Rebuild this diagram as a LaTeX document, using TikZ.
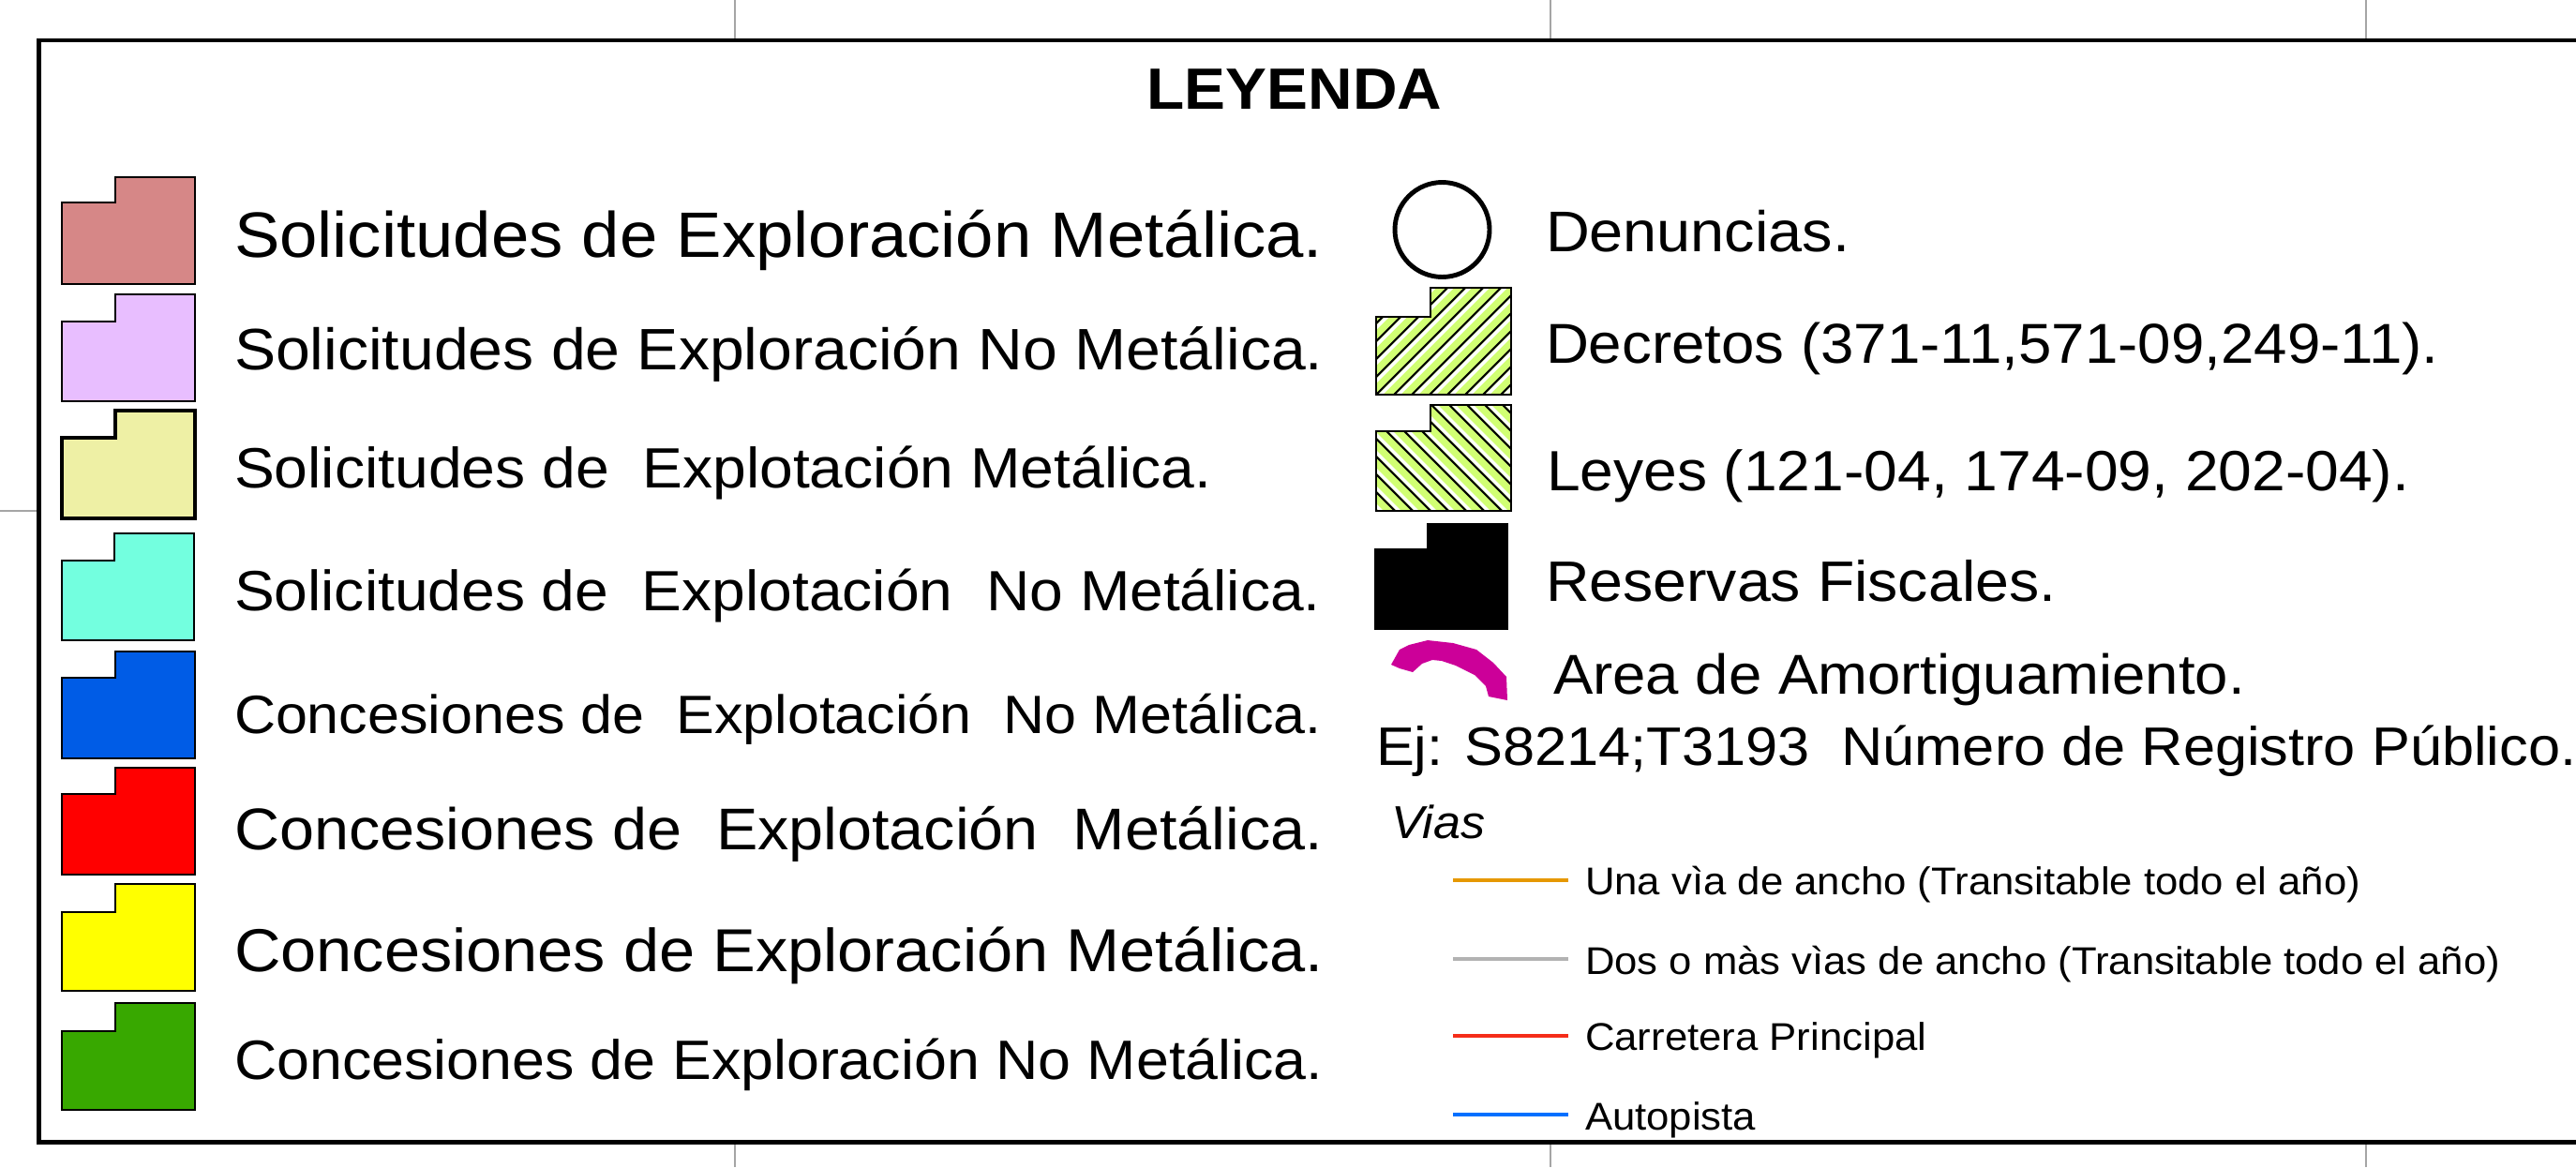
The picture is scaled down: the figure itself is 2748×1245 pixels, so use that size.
\documentclass[tikz,border=0pt]{standalone}
\usepackage{fontspec}
\setmainfont{Liberation Sans}
\definecolor{cA}{RGB}{214,135,135}
\definecolor{cB}{RGB}{232,190,255}
\definecolor{cC}{RGB}{238,240,165}
\definecolor{cD}{RGB}{115,255,223}
\definecolor{cE}{RGB}{0,92,230}
\definecolor{cF}{RGB}{255,0,0}
\definecolor{cG}{RGB}{255,255,0}
\definecolor{cH}{RGB}{56,168,0}
\definecolor{hatchgreen}{RGB}{209,255,115}
\definecolor{magent}{RGB}{204,0,153}
\definecolor{gridgray}{RGB}{165,165,165}
\definecolor{roadorange}{RGB}{230,152,0}
\definecolor{roadgray}{RGB}{178,178,178}
\definecolor{roadred}{RGB}{245,45,25}
\definecolor{roadblue}{RGB}{0,112,255}
\newcommand\fsz[1]{\fontsize{#1}{#1}\selectfont}
% style, x0, xnotch, x1, top, step, bottom
\newcommand\swatch[7]{\path[#1] (#2,#6) -- (#3,#6) -- (#3,#5) -- (#4,#5) -- (#4,#7) -- (#2,#7) -- cycle;}
\begin{document}
\begin{tikzpicture}[x=0.01cm,y=-0.01cm,
  txt/.style={anchor=base west, inner sep=0pt, outer sep=0pt, xscale=1.06},
  sw/.style={draw=black, line width=0.55pt},
  gridline/.style={draw=gridgray, line width=0.45pt},
  road/.style={line width=0.95pt}]
\useasboundingbox (0,0) rectangle (2748,1245);
\clip (0,0) rectangle (2748,1245);
% background grid lines
\foreach \gx in {784,1654,2524} {\draw[gridline] (\gx,0) -- (\gx,1245);}
\draw[gridline] (0,545) -- (41,545);
% frame
\draw[line width=1.3pt, fill=white] (41.5,43) rectangle (2850,1218.5);
% title
\node[anchor=base, inner sep=0pt, xscale=1.06] (title) at (1381,116) {\fsz{17.66pt}\bfseries LEYENDA};
% left swatches
\swatch{sw, fill=cA}{66}{123}{208}{189}{216}{303}
\swatch{sw, fill=cB}{66}{123}{208}{314}{343}{428}
\swatch{sw, fill=cC, line width=1pt}{66}{123}{208}{438}{467}{553}
\swatch{sw, fill=cD}{66}{122}{207}{569}{598}{683}
\swatch{sw, fill=cE}{66}{123}{208}{695}{723}{809}
\swatch{sw, fill=cF}{66}{123}{208}{819}{847}{933}
\swatch{sw, fill=cG}{66}{123}{208}{943}{973}{1057}
\swatch{sw, fill=cH}{66}{123}{208}{1070}{1100}{1184}
% left texts
\node[txt] (t1) at (250,274.5) {\fsz{19.46pt}Solicitudes de Exploración Metálica.};
\node[txt] (t2) at (250,394) {\fsz{17.74pt}Solicitudes de Exploración No Metálica.};
\node[txt] (t3) at (250,520) {\fsz{17.23pt}Solicitudes de~~Explotación Metálica.};
\node[txt] (t4) at (250,651.4) {\fsz{17.21pt}Solicitudes de~~Explotación~~No Metálica.};
\node[txt] (t5) at (250,782) {\fsz{16.37pt}Concesiones de~~Explotación~~No Metálica.};
\node[txt] (t6) at (250,906.5) {\fsz{17.85pt}Concesiones de~~Explotación~~Metálica.};
\node[txt] (t7) at (250,1036) {\fsz{18.39pt}Concesiones de Exploración Metálica.};
\node[txt] (t8) at (250,1151) {\fsz{16.83pt}Concesiones de Exploración No Metálica.};
% right column symbols
\draw[line width=1.4pt] (1538.5,245) circle (50.5);
% Decretos hatched
\begin{scope}
  \clip (1468,338) -- (1526,338) -- (1526,307) -- (1612,307) -- (1612,421) -- (1468,421) -- cycle;
  \fill[hatchgreen] (1460,300) rectangle (1620,430);
  \foreach \c in {1756,1775,...,2050} {
    \draw[white, line width=1pt] ({\c-430+4.5},430) -- ({\c-300+4.5},300);
    \draw[black, line width=0.6pt] ({\c-430},430) -- ({\c-300},300);
  }
\end{scope}
\swatch{sw}{1468}{1526}{1612}{307}{338}{421}
% Leyes hatched
\begin{scope}
  \clip (1468,460) -- (1526,460) -- (1526,432) -- (1612,432) -- (1612,545) -- (1468,545) -- cycle;
  \fill[hatchgreen] (1460,425) rectangle (1620,555);
  \foreach \c in {905,924,...,1200} {
    \draw[white, line width=1pt] ({\c+425+4.5},425) -- ({\c+555+4.5},555);
    \draw[black, line width=0.6pt] ({\c+425},425) -- ({\c+555},555);
  }
\end{scope}
\swatch{sw}{1468}{1526}{1612}{432}{460}{545}
% Reservas fiscales
\swatch{sw, fill=black}{1467}{1523}{1608}{558.5}{586}{671}
% Area de amortiguamiento
\fill[magent] (1484,709) -- (1493,693) -- (1503,688) -- (1523,683) -- (1550,686) -- (1575,693) -- (1593,707) -- (1607,722) -- (1608,747) -- (1588,743) -- (1585,732) -- (1573,720) -- (1553,710) -- (1538,705) -- (1528,704) -- (1517,708) -- (1507,717) -- (1493,713) -- cycle;
% right texts
\node[txt] (den) at (1649,268.7) {\fsz{17.39pt}Denuncias.};
\node[txt] (dec) at (1649,387.6) {\fsz{17.07pt}Decretos (371-11,571-09,249-11).};
\node[txt] (ley) at (1650,523) {\fsz{17.21pt}Leyes (121-04, 174-09, 202-04).};
\node[txt] (res) at (1649,641) {\fsz{17.29pt}Reservas Fiscales.};
\node[txt] (area) at (1657,740) {\fsz{17.04pt}Area de Amortiguamiento.};
\node[txt] (ej) at (1468,816) {\fsz{16.45pt}Ej: S8214;T3193~~Número de Registro Público.};
\node[txt] (vias) at (1484,894) {\fsz{14pt}\itshape Vias};
% roads
\draw[road, roadorange] (1550,939) -- (1673,939);
\draw[road, roadgray] (1550,1023) -- (1673,1023);
\draw[road, roadred] (1550,1105) -- (1673,1105);
\draw[road, roadblue, line width=1.35pt] (1550,1189) -- (1673,1189);
\node[txt] (r1) at (1691,954) {\fsz{11.73pt}Una vìa de ancho (Transitable todo el año)};
\node[txt] (r2) at (1691,1039) {\fsz{11.71pt}Dos o màs vìas de ancho (Transitable todo el año)};
\node[txt] (r3) at (1691,1120) {\fsz{11.73pt}Carretera Principal};
\node[txt] (r4) at (1691,1205) {\fsz{11.73pt}Autopista};
\end{tikzpicture}
\end{document}
